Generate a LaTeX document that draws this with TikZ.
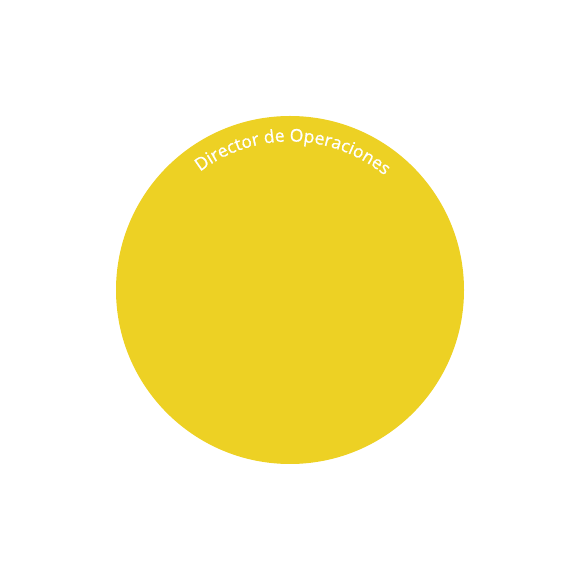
\documentclass[tikz,border=0pt]{standalone}
\usepackage{fontspec}
\setmainfont{Open Sans}
\newfontfamily\labfont{Open Sans}[UprightFeatures={FakeBold=0.9}]
\usetikzlibrary{decorations.text}
\definecolor{disc}{HTML}{EDD124}
\tikzset{discstyle/.style={fill=disc,draw=none}}
\begin{document}
\begin{tikzpicture}[x=1pt,y=1pt]
\useasboundingbox (0,0) rectangle (580,580);
\node[discstyle,circle,minimum size=348pt,inner sep=0pt] (disc) at (290,290) {};
\coordinate (c) at (disc.center);
\path[decorate,decoration={text along path,text align=center,
  text={|\labfont\fontsize{17.5}{18}\selectfont\color{white}|Director de Operaciones}}]
  (c) ++(148.8:148.5) arc[start angle=148.8,end angle=28.8,radius=148.5];
\end{tikzpicture}
\end{document}
